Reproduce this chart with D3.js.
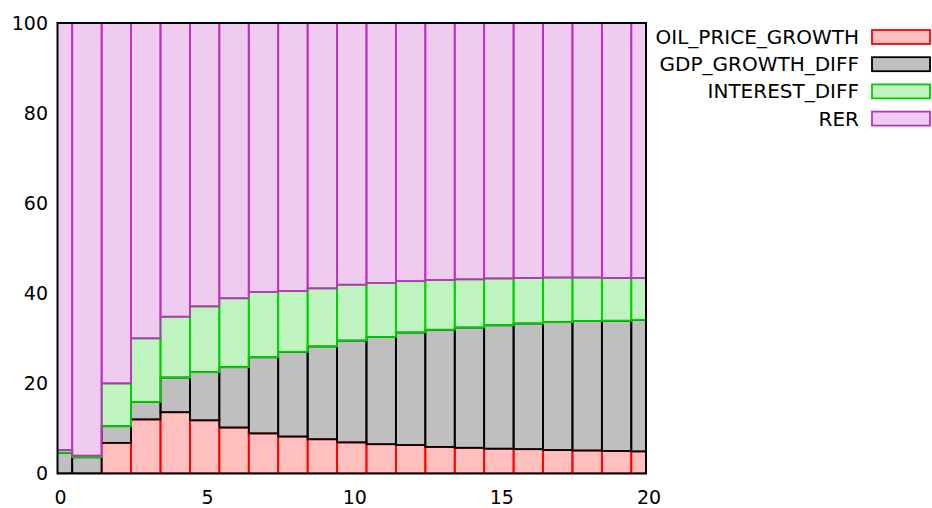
<!DOCTYPE html>
<html>
<head>
<meta charset="utf-8">
<script src="https://cdn.jsdelivr.net/npm/d3@7"></script>
<style>
  body { margin: 0; background: #fff; }
  text { font-family: "DejaVu Sans", sans-serif; fill: #000; }
</style>
</head>
<body>
<div id="chart"></div>
<script>
var periods = d3.range(0, 21);
var oil      = [0, 0, 6.8, 12.0, 13.6, 11.8, 10.2, 8.9, 8.2, 7.6, 6.9, 6.5, 6.3, 5.9, 5.7, 5.5, 5.4, 5.2, 5.1, 5.0, 4.9];
var gdp      = [4.6, 3.6, 3.7, 3.9, 7.7, 10.7, 13.4, 16.9, 18.8, 20.6, 22.6, 23.8, 25.0, 26.0, 26.7, 27.4, 27.9, 28.4, 28.75, 28.9, 29.2];
var interest = [0.6, 0.35, 9.5, 14.1, 13.5, 14.6, 15.3, 14.5, 13.5, 12.9, 12.4, 12.0, 11.4, 11.05, 10.7, 10.4, 10.1, 9.9, 9.65, 9.5, 9.3];
var rer      = [94.8, 96.05, 80.0, 70.0, 65.2, 62.9, 61.1, 59.7, 59.5, 58.9, 58.1, 57.7, 57.3, 57.05, 56.9, 56.7, 56.6, 56.5, 56.5, 56.6, 56.6];

var seriesNames = ["OIL_PRICE_GROWTH", "GDP_GROWTH_DIFF", "INTEREST_DIFF", "RER"];
var seriesColors = ["#ff0000", "#000000", "#00d000", "#c030c0"];
var xTicks = [0, 5, 10, 15, 20];
var yTicks = [0, 20, 40, 60, 80, 100];

var width = 932,
    height = 508,
    plotLeft = 57.5, plotRight = 646, plotTop = 23, plotBottom = 473.5;

var table = periods.map(function(p, i) {
  return {period: p, OIL_PRICE_GROWTH: oil[i], GDP_GROWTH_DIFF: gdp[i], INTEREST_DIFF: interest[i], RER: rer[i]};
});

var x = d3.scaleLinear().domain([0, 20]).range([plotLeft, plotRight]);
var y = d3.scaleLinear().domain([0, 100]).range([plotBottom, plotTop]);

var stack = d3.stack().keys(seriesNames);
var layers = stack(table);

var svg = d3.select("#chart").append("svg")
    .attr("width", width)
    .attr("height", height);

svg.append("defs").append("clipPath")
    .attr("id", "plot-clip")
  .append("rect")
    .attr("x", plotLeft)
    .attr("y", plotTop)
    .attr("width", plotRight - plotLeft)
    .attr("height", plotBottom - plotTop);

var plot = svg.append("g").attr("clip-path", "url(#plot-clip)");

layers.forEach(function(layer, k) {
  plot.append("g")
    .selectAll("rect")
    .data(layer)
    .enter().append("rect")
      .attr("x", function(d) { return x(d.data.period - 0.5); })
      .attr("width", function(d) { return x(d.data.period + 0.5) - x(d.data.period - 0.5); })
      .attr("y", function(d) { return y(d[1]); })
      .attr("height", function(d) { return y(d[0]) - y(d[1]); })
      .attr("fill", seriesColors[k])
      .attr("fill-opacity", 0.25)
      .attr("stroke", seriesColors[k])
      .attr("stroke-width", 1.8);
});

// frame
svg.append("rect")
    .attr("x", plotLeft)
    .attr("y", plotTop)
    .attr("width", plotRight - plotLeft)
    .attr("height", plotBottom - plotTop)
    .attr("fill", "none")
    .attr("stroke", "#000")
    .attr("stroke-width", 2);

// axis labels
svg.selectAll(".ytick")
    .data(yTicks)
  .enter().append("text")
    .attr("class", "ytick")
    .attr("x", 48)
    .attr("y", function(d) { return y(d); })
    .attr("dy", "0.35em")
    .attr("text-anchor", "end")
    .attr("font-size", 19)
    .text(function(d) { return d; });

svg.selectAll(".xtick")
    .data(xTicks)
  .enter().append("text")
    .attr("class", "xtick")
    .attr("x", function(d) { return x(d) + 3; })
    .attr("y", 497)
    .attr("dy", "0.35em")
    .attr("text-anchor", "middle")
    .attr("font-size", 19)
    .text(function(d) { return d; });

// legend
var legend = svg.append("g").attr("class", "legend");
seriesNames.forEach(function(name, k) {
  var cy = 37 + k * 27.2;
  legend.append("text")
      .attr("x", 859)
      .attr("y", cy)
      .attr("dy", "0.35em")
      .attr("text-anchor", "end")
      .attr("font-size", 20)
      .text(name);
  legend.append("rect")
      .attr("x", 872)
      .attr("y", cy - 7)
      .attr("width", 58)
      .attr("height", 14)
      .attr("fill", seriesColors[k])
      .attr("fill-opacity", 0.25)
      .attr("stroke", seriesColors[k])
      .attr("stroke-width", 1.8);
});
</script>
</body>
</html>
